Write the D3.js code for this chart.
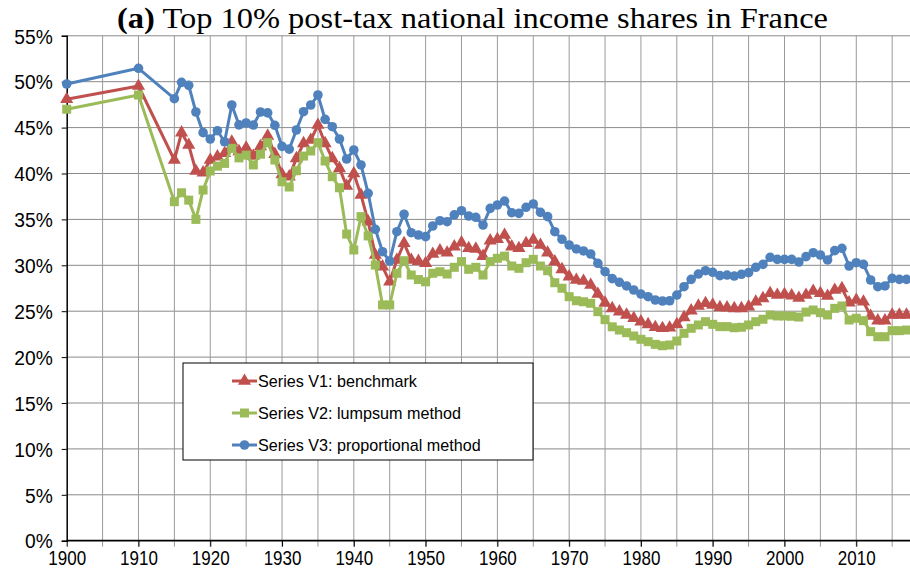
<!DOCTYPE html>
<html>
<head>
<meta charset="utf-8">
<script src="https://cdn.jsdelivr.net/npm/d3@7"></script>
<style>
    body { margin: 0; background: #fff; }
    svg { display: block; }
    .title { font-family: "Liberation Serif", "Times New Roman", serif; font-size: 29px; fill: #000; }
    .tick-label { font-family: "Liberation Sans", Arial, sans-serif; font-size: 20px; fill: #000; }
    .legend-label { font-family: "Liberation Sans", Arial, sans-serif; font-size: 17px; fill: #000; }
</style>
</head>
<body>
<div id="chart"></div>
<script>
    // years with data: 1900, 1910, then yearly from 1915
    const years = [1900, 1910].concat(d3.range(1915, 2018));

    // Series V1: benchmark (%)
    const v1 = [48.08, 49.53,
        41.47, 44.45, 43.1, 40.27, 40.1, 41.47, 41.83, 42.2, 43.46, 42.4,
        42.8, 41.9, 42.95, 44.1, 42.1, 39.9, 39.65, 41.65, 43.28, 43.65,
        45.28, 43.28, 41.65, 40.56, 38.64, 40.0, 37.66, 34.75, 31.12, 29.85,
        28.2, 30.58, 32.4, 30.58, 30.45, 30.22, 31.23, 31.6, 31.37, 32.03,
        32.46, 31.85, 31.78, 31.0, 32.68, 32.83, 33.3, 32.03, 31.85, 32.4,
        32.76, 32.21, 31.37, 30.4, 29.56, 28.76, 28.4, 28.29, 27.85, 26.87,
        25.9, 25.3, 24.95, 24.59, 24.23, 23.86, 23.57, 23.25, 23.14, 23.2,
        23.57, 24.33, 25.06, 25.57, 25.86, 25.68, 25.42, 25.38, 25.31, 25.31,
        25.49, 26.03, 26.4, 26.95, 26.76, 26.84, 26.7, 26.43, 26.76, 27.2,
        26.95, 26.65, 27.31, 27.49, 25.93, 26.22, 26.03, 24.48, 23.97, 23.97,
        24.59, 24.59, 24.59];

    // Series V2: lumpsum method (%)
    const v2 = [47.0, 48.55,
        36.93, 37.9, 37.1, 35.0, 38.2, 40.27, 40.8, 41.1, 42.74, 41.7,
        42.0, 40.93, 42.1, 43.36, 41.47, 39.1, 38.53, 40.3, 41.9, 42.45,
        43.36, 41.36, 39.65, 38.45, 33.4, 31.67, 35.3, 33.2, 30.03, 25.68,
        25.68, 29.13, 30.5, 28.94, 28.45, 28.2, 29.13, 29.3, 29.05, 29.78,
        30.4, 29.56, 29.78, 28.94, 30.4, 30.76, 31.0, 29.92, 29.67, 30.28,
        30.65, 29.92, 29.41, 28.1, 27.5, 26.58, 26.14, 26.03, 25.86, 24.95,
        24.08, 23.3, 22.95, 22.66, 22.3, 21.94, 21.68, 21.39, 21.24, 21.32,
        21.75, 22.59, 23.14, 23.5, 23.86, 23.57, 23.32, 23.32, 23.2, 23.25,
        23.5, 23.86, 24.12, 24.59, 24.48, 24.48, 24.45, 24.36, 24.9, 25.13,
        24.84, 24.59, 25.31, 25.57, 24.04, 24.23, 23.97, 22.77, 22.22, 22.22,
        22.88, 22.88, 22.95];

    // Series V3: proportional method (%)
    const v3 = [49.75, 51.46,
        48.15, 49.93, 49.6, 46.7, 44.45, 43.76, 44.66, 43.46, 47.46, 45.3,
        45.5, 45.28, 46.7, 46.6, 45.25, 42.95, 42.65, 44.74, 46.73, 47.46,
        48.55, 45.9, 45.1, 43.76, 41.58, 42.56, 40.93, 37.84, 33.92, 31.48,
        30.47, 33.66, 35.56, 33.55, 33.3, 33.12, 34.28, 34.86, 34.75, 35.5,
        35.95, 35.37, 35.23, 34.39, 36.2, 36.57, 37.0, 35.73, 35.66, 36.32,
        36.68, 35.77, 35.3, 33.66, 32.83, 32.21, 31.78, 31.56, 31.23, 30.22,
        29.3, 28.55, 28.15, 27.75, 27.31, 26.87, 26.58, 26.22, 26.11, 26.14,
        26.76, 27.67, 28.47, 29.05, 29.41, 29.24, 28.87, 28.94, 28.83, 29.02,
        29.2, 29.78, 30.1, 30.87, 30.65, 30.65, 30.65, 30.36, 30.94, 31.37,
        31.12, 30.58, 31.6, 31.85, 29.92, 30.28, 30.1, 28.4, 27.67, 27.75,
        28.58, 28.47, 28.47];

    const seriesNames = ["Series V1: benchmark", "Series V2: lumpsum method", "Series V3: proportional method"];
    const seriesColors = ["#C0504D", "#9BBB59", "#4F81BD"];
    const seriesMarkers = ["triangle", "square", "circle"];
    const yTicks = d3.range(0, 56, 5);
    const xLabelTicks = d3.range(1900, 2011, 10);
    const xGridTicks = d3.range(1905, 2016, 5);
    const titleBold = "(a)";
    const titleRest = " Top 10% post-tax national income shares in France";

    const width = 910, height = 577;
    const svg = d3.select("#chart").append("svg")
        .attr("width", width)
        .attr("height", height);

    const plotLeft = 66.7, plotRight = 913.7, plotTop = 35.8, plotBottom = 540.7;
    const x = d3.scaleLinear().domain([1900, 2018]).range([plotLeft, plotRight]);
    const y = d3.scaleLinear().domain([0, 55]).range([plotBottom, plotTop]);

    // squeeze a text element horizontally, keeping its anchor
    function squeeze(sel, k) {
        sel.each(function () {
            const w = this.getComputedTextLength();
            d3.select(this).attr("textLength", w * k).attr("lengthAdjust", "spacingAndGlyphs");
        });
    }

    // gridlines
    svg.append("g")
        .selectAll("line")
        .data(yTicks.filter(d => d > 0))
        .enter().append("line")
        .attr("x1", plotLeft).attr("x2", width)
        .attr("y1", d => y(d)).attr("y2", d => y(d))
        .attr("stroke", "#8a8a8a").attr("stroke-width", 1);

    svg.append("g")
        .selectAll("line")
        .data(xGridTicks)
        .enter().append("line")
        .attr("x1", d => x(d)).attr("x2", d => x(d))
        .attr("y1", plotTop).attr("y2", plotBottom + 6)
        .attr("stroke", "#9a9a9a").attr("stroke-width", 1);

    // axes
    const yAxis = svg.append("g")
        .attr("transform", `translate(${plotLeft},0)`)
        .call(d3.axisLeft(y).tickValues(yTicks).tickSize(5).tickPadding(9).tickFormat(d => d + "%"));
    yAxis.attr("font-size", null).attr("font-family", null);
    yAxis.select(".domain").attr("stroke", "#000").attr("stroke-width", 1.5);
    yAxis.selectAll(".tick line").attr("stroke", "#000");
    yAxis.selectAll("text").attr("class", "tick-label").attr("dy", "0.36em");
    squeeze(yAxis.selectAll("text"), 0.96);

    const xAxis = svg.append("g")
        .attr("transform", `translate(0,${plotBottom})`)
        .call(d3.axisBottom(x).tickValues(xLabelTicks).tickSize(6).tickPadding(4).tickFormat(d3.format("d")));
    xAxis.attr("font-size", null).attr("font-family", null);
    xAxis.select(".domain").attr("d", `M${plotLeft},0H${width}`).attr("stroke", "#000").attr("stroke-width", 1.8);
    xAxis.selectAll(".tick line").attr("stroke", "#000");
    xAxis.selectAll("text").attr("class", "tick-label");
    squeeze(xAxis.selectAll("text"), 0.85);

    // series
    const allSeries = [v1, v2, v3];
    const line = d3.line().x((d, i) => x(years[i])).y(d => y(d));

    function drawMarker(g, kind, color) {
        if (kind === "triangle") {
            g.append("path").attr("d", d3.symbol(d3.symbolTriangle).size(75)()).attr("fill", color);
        } else if (kind === "square") {
            g.append("rect").attr("x", -4.5).attr("y", -4.5)
                .attr("width", 9).attr("height", 9).attr("fill", color);
        } else {
            g.append("circle").attr("r", 4.8).attr("fill", color);
        }
    }

    allSeries.forEach((vals, s) => {
        const g = svg.append("g");
        g.append("path")
            .datum(vals)
            .attr("d", line)
            .attr("fill", "none")
            .attr("stroke", seriesColors[s])
            .attr("stroke-width", 3)
            .attr("stroke-linejoin", "round");
        g.selectAll("g")
            .data(vals)
            .enter().append("g")
            .attr("transform", (d, i) => `translate(${x(years[i])},${y(d)})`)
            .each(function () { drawMarker(d3.select(this), seriesMarkers[s], seriesColors[s]); });
    });

    // legend
    const legend = svg.append("g");
    legend.append("rect")
        .attr("x", 183).attr("y", 363).attr("width", 350).attr("height", 97)
        .attr("fill", "#fff").attr("stroke", "#000").attr("stroke-width", 1);
    seriesNames.forEach((name, s) => {
        const ly = 381 + s * 32;
        const row = legend.append("g");
        row.append("line").attr("x1", 232).attr("x2", 257).attr("y1", ly).attr("y2", ly)
            .attr("stroke", seriesColors[s]).attr("stroke-width", 3);
        drawMarker(row.append("g").attr("transform", `translate(244.5,${ly})`), seriesMarkers[s], seriesColors[s]);
        row.append("text").attr("class", "legend-label")
            .attr("x", 258).attr("y", ly).attr("dy", "0.36em")
            .text(name);
    });
    squeeze(legend.selectAll("text"), 0.95);

    // title
    const title = svg.append("text").attr("class", "title")
        .attr("x", 117).attr("y", 28)
        .attr("textLength", 711).attr("lengthAdjust", "spacingAndGlyphs");
    title.append("tspan").attr("font-weight", "bold").text(titleBold);
    title.append("tspan").text(titleRest);
</script>
</body>
</html>
